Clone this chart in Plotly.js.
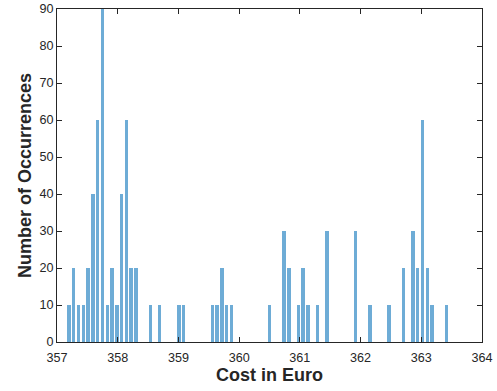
<!DOCTYPE html>
<html>
<head>
<meta charset="utf-8">
<script src="https://cdn.plot.ly/plotly-3.0.1.min.js"></script>
<style>html,body{margin:0;padding:0;background:#fff;}#chart{width:497px;height:391px;}</style>
</head>
<body>
<div id="chart"></div>
<script>
// Bin centers (Cost in Euro) and counts
const binCenters = [357.198, 357.276, 357.355, 357.434, 357.513, 357.591, 357.670, 357.748, 357.827, 357.906,
  357.985, 358.063, 358.142, 358.221, 358.299, 358.535, 358.693, 359.008, 359.086,
  359.559, 359.637, 359.716, 359.794, 359.873, 360.503, 360.739, 360.818, 360.975, 361.054,
  361.133, 361.290, 361.447, 361.920, 362.156, 362.470, 362.707, 362.864, 362.942, 363.021,
  363.100, 363.179, 363.415];
const counts = [10, 20, 10, 10, 20, 40, 60, 90, 10, 20,
  10, 40, 60, 20, 20, 10, 10, 10, 10,
  10, 10, 20, 10, 10, 10, 30, 20, 10, 20,
  10, 10, 30, 30, 10, 10, 20, 30, 20, 60,
  20, 10, 10];
const xTicks = [357, 358, 359, 360, 361, 362, 363, 364];
const yTicks = [0, 10, 20, 30, 40, 50, 60, 70, 80, 90];

const axisColor = '#262626';
const trace = {
  type: 'bar',
  x: binCenters,
  y: counts,
  width: 0.056,
  marker: {color: 'rgb(110,172,214)', line: {width: 0}},
  hoverinfo: 'x+y'
};
const layout = {
  width: 497, height: 391,
  margin: {l: 57, r: 15, t: 9, b: 49},
  paper_bgcolor: '#fff', plot_bgcolor: '#fff',
  showlegend: false,
  font: {family: 'Liberation Sans, Arial, sans-serif', color: axisColor, size: 12.6},
  xaxis: {
    range: [357, 364], tickvals: xTicks, ticktext: xTicks.map(String),
    showgrid: false, zeroline: false,
    showline: true, linecolor: axisColor, linewidth: 1, mirror: 'ticks',
    ticks: 'inside', ticklen: 5, tickcolor: axisColor, tickwidth: 1,
    tickfont: {size: 12.6, color: axisColor}, ticklabelstandoff: 4,
    title: {text: 'Cost in Euro', font: {size: 18, weight: 'bold', color: axisColor}, standoff: 4},
    automargin: false, fixedrange: true
  },
  yaxis: {
    range: [0, 90], tickvals: yTicks, ticktext: yTicks.map(String),
    showgrid: false, zeroline: false,
    showline: true, linecolor: axisColor, linewidth: 1, mirror: 'ticks',
    ticks: 'inside', ticklen: 5, tickcolor: axisColor, tickwidth: 1,
    tickfont: {size: 12.6, color: axisColor},
    title: {text: 'Number of Occurrences', font: {size: 18, weight: 'bold', color: axisColor}, standoff: 3},
    automargin: false, fixedrange: true
  },
  bargap: 0
};
Plotly.newPlot('chart', [trace], layout, {staticPlot: true, displayModeBar: false});
</script>
</body>
</html>
